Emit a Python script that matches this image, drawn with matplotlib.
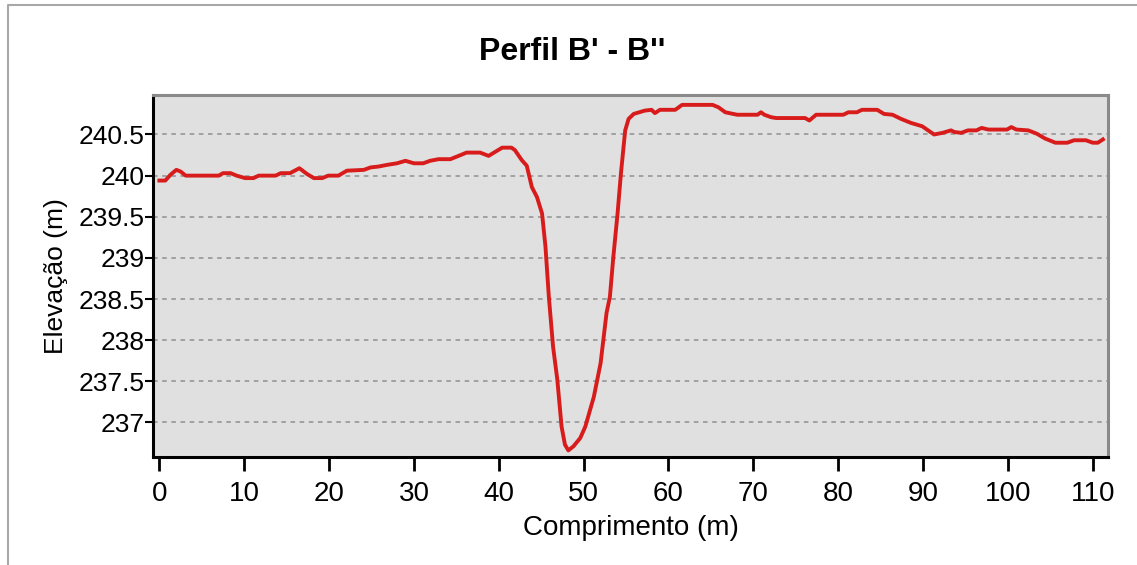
import matplotlib
matplotlib.use("Agg")
import matplotlib.pyplot as plt
from matplotlib.lines import Line2D

plt.rcParams['font.family'] = ['Liberation Sans Narrow', 'Liberation Sans', 'DejaVu Sans']

# perfil B' - B'' (comprimento em m, elevação em m)
comprimento = [0.0, 0.7, 1.3, 2.0, 2.5, 3.1, 7.0, 7.5, 8.4, 9.1, 10.1, 11.1, 11.7, 13.7,
               14.3, 15.4, 16.5, 17.4, 18.2, 19.2, 19.9, 21.1, 22.1, 24.1, 24.9, 25.8,
               26.8, 28.0, 29.0, 30.0, 31.1, 31.9, 32.9, 34.3, 35.5, 36.2, 37.8, 38.8,
               39.6, 40.4, 41.5, 41.9, 42.7, 43.3, 43.9, 44.5, 45.1, 45.5, 45.9, 46.4,
               46.9, 47.4, 47.8, 48.2, 48.8, 49.6, 50.2, 51.2, 52.0, 52.7, 53.1, 53.5,
               54.0, 54.4, 54.9, 55.3, 55.9, 57.2, 58.0, 58.4, 59.0, 60.8, 61.6, 65.2,
               65.9, 66.7, 68.1, 70.5, 70.9, 71.3, 72.1, 72.7, 76.1, 76.6, 77.4, 80.6,
               81.2, 82.2, 82.8, 84.6, 85.4, 86.4, 87.4, 88.6, 89.9, 91.3, 92.3, 93.3,
               93.7, 94.5, 95.3, 96.3, 96.9, 97.7, 99.9, 100.4, 101.0, 102.4, 103.4,
               104.4, 105.6, 107.0, 107.8, 109.2, 110.0, 110.6, 111.2]
elevacao = [239.94, 239.94, 240.01, 240.07, 240.05, 240.0, 240.0, 240.03, 240.03, 240.0,
            239.97, 239.97, 240.0, 240.0, 240.03, 240.03, 240.09, 240.02, 239.97, 239.97,
            240.0, 240.0, 240.06, 240.07, 240.10, 240.11, 240.13, 240.15, 240.18, 240.15,
            240.15, 240.18, 240.20, 240.20, 240.25, 240.28, 240.28, 240.24, 240.29, 240.34,
            240.34, 240.31, 240.19, 240.12, 239.86, 239.74, 239.54, 239.14, 238.53, 237.92,
            237.52, 236.95, 236.73, 236.66, 236.71, 236.81, 236.95, 237.31, 237.72, 238.33,
            238.53, 239.01, 239.54, 240.03, 240.55, 240.69, 240.75, 240.79, 240.80, 240.76,
            240.80, 240.80, 240.86, 240.86, 240.83, 240.77, 240.74, 240.74, 240.77, 240.74,
            240.71, 240.70, 240.70, 240.67, 240.74, 240.74, 240.77, 240.77, 240.80, 240.80,
            240.75, 240.74, 240.69, 240.64, 240.60, 240.50, 240.52, 240.55, 240.53, 240.52,
            240.55, 240.55, 240.58, 240.56, 240.56, 240.59, 240.56, 240.55, 240.51, 240.45,
            240.40, 240.40, 240.43, 240.43, 240.40, 240.40, 240.44]

xticks = list(range(0, 111, 10))
yticks = [237, 237.5, 238, 238.5, 239, 239.5, 240, 240.5]
ytick_labels = ["237", "237.5", "238", "238.5", "239", "239.5", "240", "240.5"]

fig = plt.figure(figsize=(11.37, 5.65), dpi=100)
# moldura cinza (só aparecem os lados de cima e da esquerda)
fig.lines.append(Line2D([8 / 1137, 8 / 1137, 1.0], [0.0, 1 - 5 / 565, 1 - 5 / 565],
                        transform=fig.transFigure, color="#a8a8a8", linewidth=1.5))

ax = fig.add_axes([153 / 1137, 1 - 457 / 565, (1108 - 153) / 1137, (457 - 95) / 565])
ax.set_facecolor("#e0e0e0")
ax.plot(comprimento, elevacao, color="#d81c1c", linewidth=2.8, solid_joinstyle="round")

ax.set_xlim(-0.75, 111.8)
ax.set_ylim(236.58, 240.98)
ax.set_xticks(xticks)
ax.set_yticks(yticks)
ax.set_yticklabels(ytick_labels)
ax.tick_params(axis="x", length=10, width=2, pad=7, labelsize=20, direction="out")
ax.tick_params(axis="y", length=6, width=1.5, pad=0, labelsize=19, direction="out")
ax.grid(axis="y", color="#909090", linestyle=(0, (3, 3)), linewidth=1.1)
ax.set_axisbelow(True)

for s in ["left", "bottom"]:
    ax.spines[s].set_color("black")
    ax.spines[s].set_linewidth(2.2)
for s in ["top", "right"]:
    ax.spines[s].set_color("#8a8a8a")
    ax.spines[s].set_linewidth(2.2)

ax.set_xlabel("Comprimento (m)", fontsize=20, labelpad=6)
ax.set_ylabel("Elevação (m)", fontsize=19, labelpad=8)
fig.text(0.503, 1 - 52 / 565, "Perfil B' - B''", ha="center", va="center",
         fontsize=23, fontweight="bold")

fig.savefig("out.png", dpi=100)
